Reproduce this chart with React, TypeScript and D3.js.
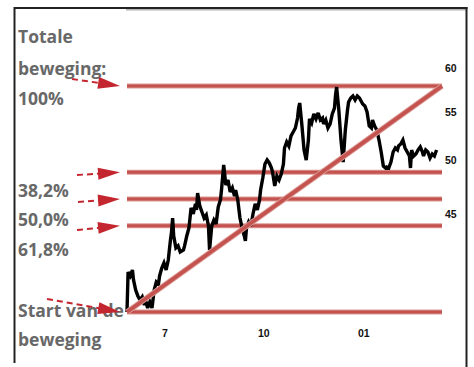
import React from "react";
import * as d3 from "d3";

// ---- data ----
const dates: string[] = [
  "2000-05-29","2000-05-30","2000-06-01","2000-06-03","2000-06-04","2000-06-06","2000-06-08","2000-06-10",
  "2000-06-12","2000-06-14","2000-06-15","2000-06-17","2000-06-19","2000-06-21","2000-06-23","2000-06-25",
  "2000-06-27","2000-06-28","2000-06-30","2000-07-02","2000-07-04","2000-07-06","2000-07-08","2000-07-09",
  "2000-07-10","2000-07-11","2000-07-13","2000-07-15","2000-07-17","2000-07-20","2000-07-21","2000-07-23",
  "2000-07-25","2000-07-27","2000-07-29","2000-07-31","2000-08-01","2000-08-02","2000-08-04","2000-08-06",
  "2000-08-08","2000-08-10","2000-08-12","2000-08-13","2000-08-15","2000-08-17","2000-08-19","2000-08-21",
  "2000-08-23","2000-08-24","2000-08-26","2000-08-28","2000-08-30","2000-09-01","2000-09-03","2000-09-05",
  "2000-09-06","2000-09-08","2000-09-10","2000-09-12","2000-09-14","2000-09-15","2000-09-16","2000-09-18",
  "2000-09-20","2000-09-22","2000-09-24","2000-09-26","2000-09-28","2000-09-29","2000-10-01","2000-10-03",
  "2000-10-05","2000-10-07","2000-10-09","2000-10-10","2000-10-12","2000-10-14","2000-10-16","2000-10-18",
  "2000-10-20","2000-10-21","2000-10-23","2000-10-25","2000-10-27","2000-10-29","2000-10-31","2000-11-02",
  "2000-11-03","2000-11-04","2000-11-06","2000-11-08","2000-11-10","2000-11-12","2000-11-13","2000-11-15",
  "2000-11-17","2000-11-19","2000-11-21","2000-11-23","2000-11-25","2000-11-26","2000-11-28","2000-11-30",
  "2000-12-02","2000-12-04","2000-12-06","2000-12-07","2000-12-08","2000-12-10","2000-12-12","2000-12-14",
  "2000-12-16","2000-12-18","2000-12-19","2000-12-21","2000-12-23","2000-12-25","2000-12-27","2000-12-29",
  "2000-12-30","2001-01-01","2001-01-03","2001-01-05","2001-01-07","2001-01-09","2001-01-10","2001-01-12",
  "2001-01-14","2001-01-16","2001-01-18","2001-01-20","2001-01-22","2001-01-23","2001-01-25","2001-01-27",
  "2001-01-29","2001-01-31","2001-02-02","2001-02-03","2001-02-05","2001-02-07","2001-02-09","2001-02-11",
  "2001-02-13","2001-02-14","2001-02-15","2001-02-17","2001-02-19","2001-02-21","2001-02-23","2001-02-25",
  "2001-02-26","2001-02-28","2001-03-02","2001-03-04","2001-03-06","2001-03-08","2001-03-10",
];
const prices: number[] = [
  37.10,40.14,39.83,40.30,39.52,38.74,38.29,37.99,
  38.22,37.61,37.99,37.39,37.84,37.39,38.74,39.36,
  39.21,39.83,40.46,40.86,40.30,41.10,42.75,43.43,
  44.64,43.09,42.09,42.26,41.76,41.92,42.26,43.09,
  43.77,45.54,45.00,45.90,45.36,46.90,45.72,45.18,
  44.64,44.91,43.95,41.92,43.95,44.47,44.12,45.63,
  46.26,47.18,49.56,47.65,48.12,46.99,47.37,46.63,
  47.18,46.26,44.64,43.77,43.09,42.67,43.77,44.30,
  43.95,45.00,45.90,45.36,46.26,47.18,48.31,49.66,
  50.05,49.76,49.27,48.88,47.56,48.50,48.12,48.69,
  49.66,51.25,51.86,51.45,52.48,52.89,53.31,54.37,
  55.45,56.00,53.63,51.05,50.05,52.06,54.27,53.84,
  54.81,54.27,54.92,54.16,54.37,53.73,54.16,53.31,
  53.73,54.81,55.45,56.89,57.79,55.24,52.06,49.85,
  53.10,55.24,56.11,56.55,56.78,56.33,56.78,56.55,
  56.33,55.89,55.67,55.02,53.52,53.31,54.16,53.52,
  53.10,52.06,50.85,49.46,49.27,49.36,49.27,49.85,
  50.85,51.25,51.05,51.45,51.65,52.06,51.25,50.85,
  50.45,49.27,51.05,50.45,50.65,51.05,51.35,50.85,
  50.45,51.05,50.85,50.25,50.65,50.45,51.05,
];

const moveStartDate = "2000-05-29";
const moveEndDate = "2001-03-15";
const moveLow = 37.1;
const moveHigh = 57.91;
const fibRatios = [0, 0.382, 0.5, 0.618, 1];

const yTickValues = [60, 55, 50, 45];
const yTickLabels = ["60", "55", "50", "45"];
const xTickDates = ["2000-07-03", "2000-10-02", "2001-01-02"];
const xTickLabels = ["7", "10", "01"];

const leftTextLines = ["Totale", "beweging:", "100%", "38,2%", "50,0%", "61,8%", "Start van de", "beweging"];

// ---- layout ----
const W = 474;
const H = 367;
const textBaselines = [43, 75, 105, 197, 226, 256, 317, 346];
const arrowStarts: [number, number][] = [
  [72, 79],
  [77, 175],
  [78, 202],
  [77, 230],
  [47, 299],
];
const arrowLevels = [0, 0.382, 0.5, 0.618, 1];

const parse = d3.timeParse("%Y-%m-%d");

export default function App() {
  const x = d3
    .scaleTime()
    .domain([parse(moveStartDate) as Date, parse(moveEndDate) as Date])
    .range([127, 442]);
  const y = d3.scaleLog().domain([45, 60]).range([214, 68]);

  const pts: [Date, number][] = dates.map((d, i) => [parse(d) as Date, prices[i]]);
  const line = d3
    .line<[Date, number]>()
    .x((d) => x(d[0]))
    .y((d) => y(d[1]));

  const lnH = Math.log(moveHigh);
  const lnL = Math.log(moveLow);
  const levelPrice = (r: number) => Math.exp(lnH - r * (lnH - lnL));

  const x0 = x(parse(moveStartDate) as Date);
  const x1 = x(parse(moveEndDate) as Date);

  const redEdge = "#dc9a94";
  const redCore = "#c4524f";
  const arrowRed = "#c4262f";

  const arrowEls = arrowStarts.map((s, i) => {
    const tipX = x0 - 7;
    const tipY = y(levelPrice(arrowLevels[i]));
    const dx = tipX - s[0];
    const dy = tipY - s[1];
    const len = Math.sqrt(dx * dx + dy * dy);
    const ux = dx / len;
    const uy = dy / len;
    const headLen = 22;
    const headHalf = 6;
    const bx = tipX - ux * headLen;
    const by = tipY - uy * headLen;
    const px = -uy;
    const py = ux;
    const tri = `M${tipX},${tipY}L${bx + px * headHalf},${by + py * headHalf}L${bx - px * headHalf},${by - py * headHalf}Z`;
    return (
      <g key={"arrow" + i}>
        <line
          x1={s[0]}
          y1={s[1]}
          x2={bx + ux * 2}
          y2={by + uy * 2}
          stroke={arrowRed}
          strokeWidth={2}
          strokeDasharray="6,4"
        />
        <path d={tri} fill={arrowRed} />
      </g>
    );
  });

  return (
    <svg
      width={W}
      height={H}
      viewBox={`0 0 ${W} ${H}`}
      style={{ position: "absolute", left: 0, top: 0, background: "#fff" }}
    >
      {/* frame */}
      <line x1={126} y1={9.8} x2={466} y2={9.8} stroke="#b4b4b4" strokeWidth={1.4} />
      <line x1={14} y1={8} x2={467.5} y2={8} stroke="#222" strokeWidth={2} />
      <line x1={14.5} y1={7} x2={14.5} y2={363} stroke="#222" strokeWidth={2} />
      <line x1={466.5} y1={7} x2={466.5} y2={367} stroke="#222" strokeWidth={2} />

      {/* fibonacci horizontal lines */}
      {fibRatios.map((r, i) => {
        const yy = y(levelPrice(r));
        return (
          <g key={"fib" + i}>
            <line x1={x0} y1={yy} x2={x1} y2={yy} stroke={redEdge} strokeWidth={5} />
            <line x1={x0} y1={yy} x2={x1} y2={yy} stroke={redCore} strokeWidth={3} />
          </g>
        );
      })}

      {/* price line */}
      <path d={line(pts) || ""} fill="none" stroke="#000" strokeWidth={3.4} strokeLinejoin="miter" strokeMiterlimit={3} />

      {/* diagonal move line */}
      <line x1={x0} y1={y(moveLow)} x2={x1} y2={y(moveHigh)} stroke={redEdge} strokeWidth={5.5} />
      <line x1={x0} y1={y(moveLow)} x2={x1} y2={y(moveHigh)} stroke={redCore} strokeWidth={3.5} />

      {/* y tick labels */}
      {yTickValues.map((v, i) => (
        <text
          key={"yt" + i}
          x={445}
          y={y(v)}
          dy="0.35em"
          fontFamily="'Liberation Sans', Arial, sans-serif"
          fontWeight={700}
          fontSize={10.5}
          fill="#111"
        >
          {yTickLabels[i]}
        </text>
      ))}

      {/* x tick labels */}
      {xTickDates.map((d, i) => (
        <text
          key={"xt" + i}
          x={x(parse(d) as Date)}
          y={337}
          textAnchor="middle"
          fontFamily="'Liberation Sans', Arial, sans-serif"
          fontWeight={700}
          fontSize={10.5}
          fill="#111"
        >
          {xTickLabels[i]}
        </text>
      ))}

      {/* left annotation text */}
      {leftTextLines.map((t, i) => (
        <text
          key={"lt" + i}
          x={18}
          y={textBaselines[i]}
          fontFamily="'Open Sans', sans-serif"
          fontWeight={700}
          fontSize={17.5}
          fill="#686868"
        >
          {t}
        </text>
      ))}

      {/* arrows */}
      {arrowEls}
    </svg>
  );
}
